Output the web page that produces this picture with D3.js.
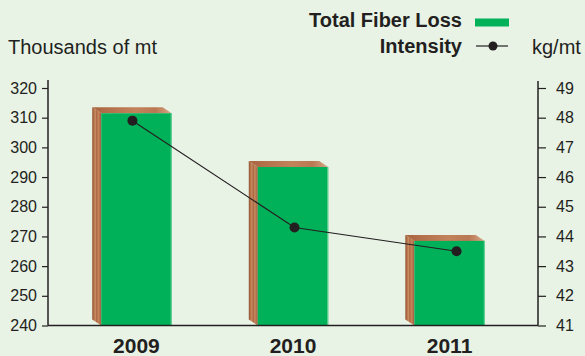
<!DOCTYPE html>
<html>
<head>
<meta charset="utf-8">
<script src="https://cdn.jsdelivr.net/npm/d3@7"></script>
<style>
  html, body { margin: 0; padding: 0; background: #e8f3e6; }
  svg { display: block; }
  text { font-family: "Liberation Sans", Arial, sans-serif; fill: #231f20; }
</style>
</head>
<body>
<svg id="chart" width="585" height="356"></svg>
<script>
// Chart data
const years = ["2009", "2010", "2011"];
const fiberLoss = [311.5, 293.4, 268.5];     // thousands of mt
const intensity = [47.9, 44.3, 43.5];        // kg/mt
const leftTicks = [240, 250, 260, 270, 280, 290, 300, 310, 320];
const rightTicks = [41, 42, 43, 44, 45, 46, 47, 48, 49];

const W = 585, H = 356;
const axisLeft = 48, axisRight = 538, baseY = 325.5, topY = 88;
const ink = "#231f20", green = "#00b15a";
const depthX = 9, depthY = 6;

const svg = d3.select("#chart");
svg.append("rect").attr("width", W).attr("height", H).attr("fill", "#e8f3e6");

// Wood-grain fills for the bar sides and tops
const defs = svg.append("defs");
const sideGrad = defs.append("linearGradient").attr("id", "woodSide")
  .attr("x1", 0).attr("x2", 1).attr("y1", 0).attr("y2", 0);
[["0%", "#8f5231"], ["18%", "#b46f48"], ["35%", "#c98c63"], ["50%", "#a9643f"],
 ["65%", "#c7875d"], ["82%", "#b77450"], ["100%", "#9c5b37"]]
  .forEach(([o, c]) => sideGrad.append("stop").attr("offset", o).attr("stop-color", c));
const topGrad = defs.append("linearGradient").attr("id", "woodTop")
  .attr("x1", 0).attr("x2", 1).attr("y1", 0).attr("y2", 0);
[["0%", "#a9643e"], ["30%", "#b87650"], ["55%", "#c2825a"], ["80%", "#b97853"], ["100%", "#d9a888"]]
  .forEach(([o, c]) => topGrad.append("stop").attr("offset", o).attr("stop-color", c));

// Scales
const x = d3.scaleBand().domain(years).range([axisLeft, axisRight])
  .paddingInner(0.55).paddingOuter(0.34);
const yL = d3.scaleLinear().domain([240, 320]).range([baseY, topY]);
const yR = d3.scaleLinear().domain([41, 49]).range([baseY, topY]);
const xLine = d3.scalePoint().domain(years)
  .range([x("2009") + x.bandwidth() / 2 - 4, x("2011") + x.bandwidth() / 2 + 7]);

// Bars with a wooden side and top
const bars = svg.append("g").selectAll("g").data(years).join("g");
bars.each(function (yr, i) {
  const g = d3.select(this);
  const x0 = x(yr), w = x.bandwidth(), t = yL(fiberLoss[i]);
  g.append("path")
    .attr("d", `M${x0 - depthX},${t - depthY} L${x0},${t} L${x0},${baseY} L${x0 - depthX},${baseY - depthY} Z`)
    .attr("fill", "url(#woodSide)");
  g.append("path")
    .attr("d", `M${x0 - depthX},${t - depthY} L${x0 + w - depthX},${t - depthY} L${x0 + w},${t} L${x0},${t} Z`)
    .attr("fill", "url(#woodTop)");
  g.append("rect")
    .attr("x", x0).attr("y", t).attr("width", w).attr("height", baseY - t)
    .attr("fill", green);
  g.append("line")
    .attr("x1", x0 + w - 0.5).attr("x2", x0 + w - 0.5).attr("y1", t).attr("y2", baseY)
    .attr("stroke", "#6fd39a").attr("stroke-width", 1);
});

// Left axis
const gL = svg.append("g").attr("transform", `translate(${axisLeft},0)`)
  .call(d3.axisLeft(yL).tickValues(leftTicks).tickSize(6).tickSizeOuter(0).tickPadding(5));
gL.select(".domain").attr("d", `M0,80V${baseY}`);

// Right axis
const gR = svg.append("g").attr("transform", `translate(${axisRight},0)`)
  .call(d3.axisRight(yR).tickValues(rightTicks).tickSize(8).tickSizeOuter(0).tickPadding(10));
gR.select(".domain").attr("d", `M0,81V${baseY}`);

[gL, gR].forEach(g => {
  g.select(".domain").attr("stroke", ink).attr("stroke-width", 1.5);
  g.selectAll(".tick line").attr("stroke", ink).attr("stroke-width", 1.2);
  g.selectAll(".tick text").attr("fill", "#3b3b3b")
    .style("font-family", "'Liberation Sans', Arial, sans-serif").style("font-size", "16px");
});

// Baseline and year labels
svg.append("line").attr("x1", axisLeft).attr("x2", axisRight)
  .attr("y1", baseY).attr("y2", baseY).attr("stroke", ink).attr("stroke-width", 1.5);
svg.append("g").selectAll("text").data(years).join("text")
  .attr("x", d => x(d) + x.bandwidth() / 2)
  .attr("y", 353)
  .attr("text-anchor", "middle")
  .style("font-size", "21px").style("font-weight", "bold")
  .text(d => d);

// Intensity line and markers
const line = d3.line().x((d, i) => xLine(years[i])).y(d => yR(d));
svg.append("path").datum(intensity).attr("d", line)
  .attr("fill", "none").attr("stroke", ink).attr("stroke-width", 1.2);
svg.append("g").selectAll("circle").data(intensity).join("circle")
  .attr("cx", (d, i) => xLine(years[i])).attr("cy", d => yR(d)).attr("r", 5)
  .attr("fill", ink);

// Axis titles
svg.append("text").attr("x", 8).attr("y", 54)
  .style("font-size", "20px").text("Thousands of mt");
svg.append("text").attr("x", 532).attr("y", 54)
  .style("font-size", "20px").text("kg/mt");

// Legend
const legend = svg.append("g");
legend.append("text").attr("x", 462).attr("y", 27).attr("text-anchor", "end")
  .style("font-size", "20px").style("font-weight", "bold").text("Total Fiber Loss");
legend.append("rect").attr("x", 475).attr("y", 18.5).attr("width", 34).attr("height", 8)
  .attr("fill", green);
legend.append("text").attr("x", 462).attr("y", 53).attr("text-anchor", "end")
  .style("font-size", "20px").style("font-weight", "bold").text("Intensity");
legend.append("line").attr("x1", 476).attr("x2", 508).attr("y1", 46).attr("y2", 46)
  .attr("stroke", ink).attr("stroke-width", 1.2);
legend.append("circle").attr("cx", 493).attr("cy", 46).attr("r", 4.5).attr("fill", ink);
</script>
</body>
</html>
